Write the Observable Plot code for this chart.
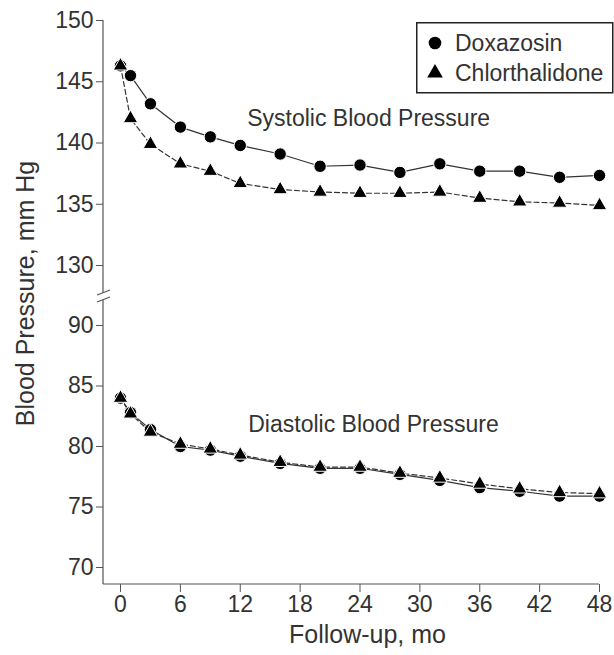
<!DOCTYPE html>
<html><head><meta charset="utf-8">
<script src="https://cdn.jsdelivr.net/npm/d3@7"></script>
<script src="https://cdn.jsdelivr.net/npm/@observablehq/plot@0.6"></script>
<style>
body{margin:0;background:#fff;}
#wrap{position:relative;width:614px;height:655px;font-family:"Liberation Sans",Arial,Helvetica,sans-serif;}
#legend{position:absolute;left:416px;top:22px;}
</style></head><body><div id="wrap"></div>
<script>
// ---- data ----
const months = [0, 1, 3, 6, 9, 12, 16, 20, 24, 28, 32, 36, 40, 44, 48];
const seriesNames = ["Doxazosin", "Chlorthalidone"];
const doxSystolic = [146.3, 145.5, 143.2, 141.3, 140.5, 139.8, 139.1, 138.1, 138.2, 137.6, 138.3, 137.7, 137.7, 137.2, 137.35];
const chlSystolic = [146.3, 142.0, 139.9, 138.3, 137.7, 136.7, 136.2, 136.0, 135.9, 135.9, 136.0, 135.5, 135.2, 135.1, 134.9];
const doxDiastolic = [84.0, 82.8, 81.4, 80.0, 79.7, 79.2, 78.6, 78.2, 78.2, 77.7, 77.2, 76.6, 76.3, 75.9, 75.9];
const chlDiastolic = [84.0, 82.7, 81.2, 80.2, 79.8, 79.3, 78.7, 78.3, 78.3, 77.8, 77.4, 76.9, 76.5, 76.2, 76.1];
const yTicks = [70, 75, 80, 85, 90, 130, 135, 140, 145, 150];
const xTicks = [0, 6, 12, 18, 24, 30, 36, 42, 48];
const annotationLabels = ["Systolic Blood Pressure", "Diastolic Blood Pressure"];
const annotationMonths = [12.7, 12.8];
const annotationValues = [142.0, 81.8];
const yLabel = "Blood Pressure, mm Hg";
const xLabel = "Follow-up, mo";

// ---- build table ----
const rows = [];
function add(series, type, vals) { vals.forEach((v, i) => rows.push({series, type, month: months[i], value: v})); }
add(seriesNames[0], "Systolic", doxSystolic);
add(seriesNames[1], "Systolic", chlSystolic);
add(seriesNames[0], "Diastolic", doxDiastolic);
add(seriesNames[1], "Diastolic", chlDiastolic);
const dox = rows.filter(d => d.series === seriesNames[0]);
const chl = rows.filter(d => d.series === seriesNames[1]);
const annotations = annotationLabels.map((label, i) => ({label, month: annotationMonths[i], value: annotationValues[i]}));

const INK = "#333";
const AXIS = "#555";

// axis lines with a break between the two panels
function axisLines(index, scales, values, dims) {
  const g = d3.create("svg:g").attr("stroke", AXIS).attr("stroke-width", 1.2).attr("fill", "none");
  const x0 = dims.marginLeft;
  const yTop = scales.y(d3.max(yTicks));
  const yBot = dims.height - dims.marginBottom;
  const c = (scales.y(130) + scales.y(90)) / 2 + 1;
  g.append("line").attr("x1", x0).attr("x2", x0).attr("y1", yTop).attr("y2", c - 3.3);
  g.append("line").attr("x1", x0).attr("x2", x0).attr("y1", c + 3.7).attr("y2", yBot);
  g.append("line").attr("x1", x0).attr("x2", scales.x(d3.max(xTicks))).attr("y1", yBot).attr("y2", yBot);
  g.append("line").attr("x1", x0 - 6).attr("y1", c - 1).attr("x2", x0 + 7).attr("y2", c - 6);
  g.append("line").attr("x1", x0 - 6).attr("y1", c + 6).attr("x2", x0 + 7).attr("y2", c + 1);
  return g.node();
}

// rotated y-axis title, centred on the full axis
function yTitle(index, scales, values, dims) {
  const cy = (scales.y(d3.max(yTicks)) + scales.y(d3.min(yTicks))) / 2;
  const t = d3.create("svg:text")
    .attr("transform", `translate(${dims.marginLeft - 78},${cy}) rotate(-90)`)
    .attr("text-anchor", "middle").attr("dy", "0.35em")
    .attr("font-size", 25).attr("fill", INK).text(yLabel);
  return t.node();
}

const chart = Plot.plot({
  width: 614,
  height: 655,
  marginLeft: 103,
  marginTop: 20,
  marginBottom: 71,
  marginRight: 15,
  style: {fontFamily: '"Liberation Sans", Arial, Helvetica, sans-serif', fontSize: "23px", color: INK, background: "#fff"},
  x: {domain: [0, 48], range: [120, 599]},
  y: {type: "linear", domain: [70, 90, 130, 150], range: [567, 325, 265, 20]},
  marks: [
    axisLines,
    Plot.axisY({ticks: yTicks, tickSize: 7, tickPadding: 3, label: null, fontSize: 23, stroke: AXIS, fill: INK}),
    Plot.axisX({ticks: xTicks, tickSize: 8, tickPadding: 3, label: null, fontSize: 23, stroke: AXIS, fill: INK}),
    Plot.line(dox, {x: "month", y: "value", z: "type", stroke: INK, strokeWidth: 1.2}),
    Plot.line(chl, {x: "month", y: "value", z: "type", stroke: INK, strokeWidth: 1.2, strokeDasharray: "5,3"}),
    Plot.dot(dox, {x: "month", y: "value", symbol: "circle", r: 6.2, fill: "#000", stroke: "#fff", strokeWidth: 1}),
    Plot.dot(chl, {x: "month", y: "value", symbol: "triangle", r: 5.4, fill: "#000", stroke: "#fff", strokeWidth: 1}),
    Plot.text(annotations, {x: "month", y: "value", text: "label", textAnchor: "start", fontSize: 23, fill: INK}),
    yTitle,
    Plot.text([xLabel], {frameAnchor: "bottom", dx: 16, dy: 58, fontSize: 25, fill: INK})
  ]
});
document.getElementById("wrap").appendChild(chart);

// ---- legend (inside plot area, top-right) ----
const lg = d3.select("#wrap").append("svg").attr("id", "legend").attr("width", 198).attr("height", 72);
lg.append("rect").attr("x", 0.75).attr("y", 0.75).attr("width", 196).attr("height", 70)
  .attr("fill", "#fff").attr("stroke", "#222").attr("stroke-width", 1.5);
const legendSymbols = [d3.symbolCircle, d3.symbolTriangle];
const legendR = [6.3, 5.8];
seriesNames.forEach((name, i) => {
  const cy = 21 + i * 30;
  lg.append("path").attr("transform", `translate(19,${cy})`)
    .attr("d", d3.symbol(legendSymbols[i], Math.PI * legendR[i] * legendR[i])()).attr("fill", "#000");
  lg.append("text").attr("x", 39).attr("y", cy).attr("dy", "0.36em")
    .attr("font-size", 23).attr("fill", INK).text(name);
});
</script></body></html>
